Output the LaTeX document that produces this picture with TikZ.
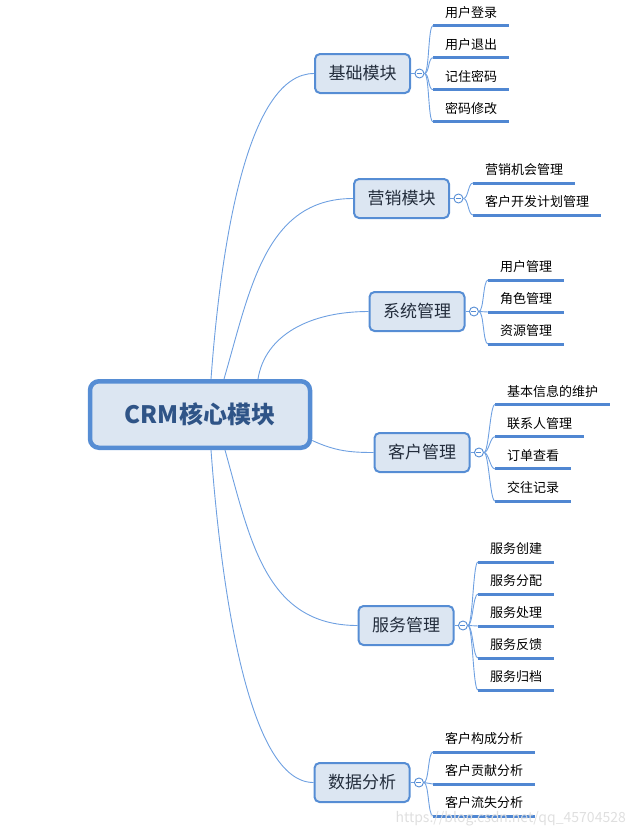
\documentclass[tikz,border=0pt]{standalone}
\usepackage{fontspec}
\setmainfont{Noto Sans CJK SC}
\usetikzlibrary{positioning}

\definecolor{boxblue}{RGB}{86,141,212}
\definecolor{boxfill}{RGB}{220,230,242}
\definecolor{roottext}{RGB}{47,84,135}
\definecolor{topictext}{RGB}{35,45,60}
\definecolor{linkblue}{RGB}{110,160,225}
\definecolor{lineblue}{RGB}{80,135,210}

\tikzset{
  root/.style={draw=boxblue, line width=4.5pt, fill=boxfill, rounded corners=9pt,
    minimum width=220pt, minimum height=66.5pt, text=roottext,
    font=\fontsize{24}{28}\selectfont\bfseries},
  topic/.style={draw=boxblue, line width=2pt, fill=boxfill, rounded corners=5pt,
    minimum width=95pt, minimum height=39pt, text=topictext,
    font=\fontsize{17}{20}\selectfont},
  fold/.style={circle, draw=boxblue, line width=0.9pt, fill=white, minimum size=9pt,
    inner sep=0pt, path picture={\draw[boxblue, line width=0.7pt]
      ([xshift=-2.5pt]path picture bounding box.center) --
      ([xshift=2.5pt]path picture bounding box.center);}},
  leaf/.style={anchor=south west, inner xsep=12pt, inner ysep=6pt, text height=10pt,
    text depth=2pt, font=\fontsize{13}{15}\selectfont},
  uline/.style={draw=lineblue, line width=3pt},
  link/.style={draw=linkblue, line width=0.9pt},
}

\begin{document}
\begin{tikzpicture}[x=1pt, y=-1pt]
    \useasboundingbox (0,0) rectangle (643,833);

    % Draw the main node
    \node[root] (root) at (200,414.5) {CRM核心模块};

    % Draw the modules
    \node[topic] (jc) at (362.5,73.5) {基础模块};
    \node[topic] (yx) at (401.5,198.5) {营销模块};
    \node[topic] (xt) at (417,311.5) {系统管理};
    \node[topic] (kh) at (422,452.5) {客户管理};
    \node[topic] (fw) at (406,625.5) {服务管理};
    \node[topic] (sj) at (362,782.5) {数据分析};

    % Draw the fold circles
    \foreach \m in {jc,yx,xt,kh,fw,sj}{
      \node[fold, right=3.5pt of \m] (\m f) {};
      \draw[link] (\m) -- (\m f);
    }

    % Connect the main node to the modules
    \draw[link] ([xshift=11pt]root.north) .. controls (222,230) and (250,73.5) .. (jc.west);
    \draw[link] ([xshift=24pt]root.north) .. controls (250,290) and (265,198.5) .. (yx.west);
    \draw[link] ([xshift=58pt]root.north) .. controls (265,335) and (310,311.5) .. (xt.west);
    \draw[link] ([yshift=-26pt]root.east) .. controls (335,451) and (350,452.5) .. (kh.west);
    \draw[link] ([xshift=25pt]root.south) .. controls (250,539) and (265,625.5) .. (fw.west);
    \draw[link] ([xshift=11pt]root.south) .. controls (222,599) and (250,782.5) .. (sj.west);

    % Draw the items of each module
    \foreach \t [count=\i] in {用户登录,用户退出,记住密码,密码修改}{
      \node[leaf] (jc\i) at (433,{25.7+32*(\i-1)}) {\t};
      \draw[uline] (jc\i.south west) -- (jc\i.south east);
      \draw[link] (jcf.east) .. controls +(5,0) and +(-5,0) .. (jc\i.south west);
    }
    \foreach \t [count=\i] in {营销机会管理,客户开发计划管理}{
      \node[leaf] (yx\i) at (473,{183+32*(\i-1)}) {\t};
      \draw[uline] (yx\i.south west) -- (yx\i.south east);
      \draw[link] (yxf.east) .. controls +(5,0) and +(-5,0) .. (yx\i.south west);
    }
    \foreach \t [count=\i] in {用户管理,角色管理,资源管理}{
      \node[leaf] (xt\i) at (488,{280+32*(\i-1)}) {\t};
      \draw[uline] (xt\i.south west) -- (xt\i.south east);
      \draw[link] (xtf.east) .. controls +(5,0) and +(-5,0) .. (xt\i.south west);
    }
    \foreach \t [count=\i] in {基本信息的维护,联系人管理,订单查看,交往记录}{
      \node[leaf] (kh\i) at (495,{404.5+32.2*(\i-1)}) {\t};
      \draw[uline] (kh\i.south west) -- (kh\i.south east);
      \draw[link] (khf.east) .. controls +(5,0) and +(-5,0) .. (kh\i.south west);
    }
    \foreach \t [count=\i] in {服务创建,服务分配,服务处理,服务反馈,服务归档}{
      \node[leaf] (fw\i) at (478,{562+32*(\i-1)}) {\t};
      \draw[uline] (fw\i.south west) -- (fw\i.south east);
      \draw[link] (fwf.east) .. controls +(5,0) and +(-5,0) .. (fw\i.south west);
    }
    \foreach \t [count=\i] in {客户构成分析,客户贡献分析,客户流失分析}{
      \node[leaf] (sj\i) at (433,{752+32*(\i-1)}) {\t};
      \draw[uline] (sj\i.south west) -- (sj\i.south east);
      \draw[link] (sjf.east) .. controls +(5,0) and +(-5,0) .. (sj\i.south west);
    }

    % Watermark
    \node[anchor=west, text=gray!25, font=\fontsize{14}{17}\selectfont] (wm) at (392,819)
      {https://blog.csdn.net/qq\_45704528};
\end{tikzpicture}
\end{document}
